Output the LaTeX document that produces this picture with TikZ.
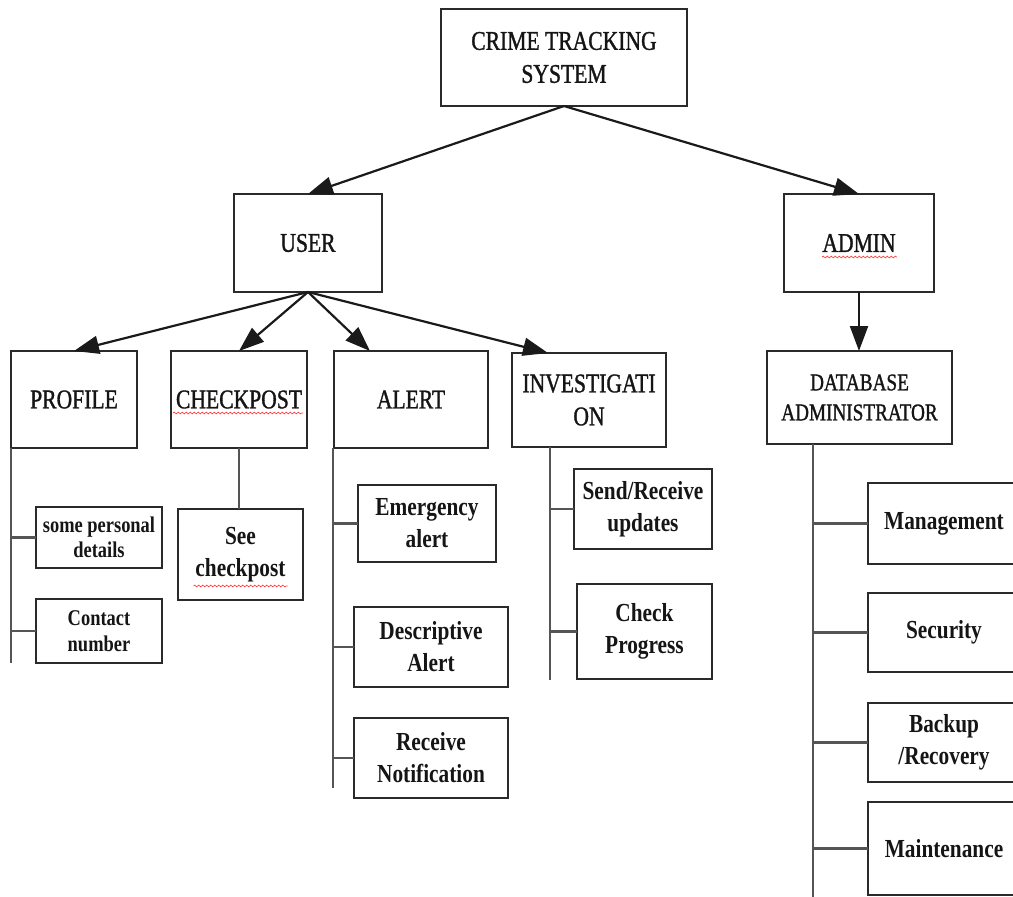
\documentclass[tikz,border=0pt]{standalone}
\usepackage{fontspec}
\setmainfont{Liberation Serif}[FakeStretch=0.82]
\newfontfamily\heavyfont{Liberation Serif}[FakeStretch=0.80, FakeBold=1.2]
\usetikzlibrary{arrows.meta,calc,decorations.pathmorphing}
\definecolor{boxc}{HTML}{2A2A2A}
\definecolor{linec}{HTML}{555555}
\definecolor{arrc}{HTML}{1A1A1A}
\definecolor{txtc}{HTML}{151515}
\begin{document}
\begin{tikzpicture}[x=1pt,y=-1pt,
  box/.style={draw=boxc, line width=2.2pt, rectangle, inner sep=0pt, outer sep=0pt, align=center, text=txtc},
  big/.style={box, font=\heavyfont\fontsize{27}{33}\selectfont},
  dbfont/.style={box, font=\heavyfont\fontsize{24}{30}\selectfont},
  sub/.style={box, font=\bfseries\fontsize{26}{32}\selectfont},
  small/.style={box, font=\bfseries\fontsize{22.5}{25.5}\selectfont},
  arr/.style={line width=2.2pt, draw=arrc, -{Triangle[length=25pt,width=18pt]}},
  vline/.style={line width=2.2pt, draw=linec},
  spell/.style={draw=red!75, line width=0.7pt, decorate, decoration={snake, segment length=4pt, amplitude=0.9pt}}
]
\useasboundingbox (0,0) rectangle (1013,897);
\clip (0,0) rectangle (1013,897);

% top levels
\node[big, minimum width=246pt, minimum height=97pt] (cts) at (564,57.5) {CRIME TRACKING\\SYSTEM};
\node[big, minimum width=148pt, minimum height=98pt] (user) at (308,243) {USER};
\node[big, minimum width=150pt, minimum height=98pt] (admin) at (859,243) {ADMIN};

% second level
\node[big, minimum width=126pt, minimum height=97pt] (profile) at (74,399.5) {PROFILE};
\node[big, minimum width=136pt, minimum height=97pt] (checkpost) at (239,399.5) {CHECKPOST};
\node[big, minimum width=154pt, minimum height=97pt] (alert) at (411,399.5) {ALERT};
\node[big, minimum width=154pt, minimum height=94pt] (inv) at (589,400) {INVESTIGATI\\ON};
\node[dbfont, minimum width=185pt, minimum height=93pt] (dba) at (859.5,397.5) {DATABASE\\ADMINISTRATOR};

% leaves
\node[small, minimum width=126pt, minimum height=61pt] (spd) at (99,537.5) {some personal\\details};
\node[small, minimum width=126pt, minimum height=64pt] (cn) at (99,631) {Contact\\number};
\node[sub, minimum width=125pt, minimum height=91pt] (seecp) at (240.5,554.5) {See\\checkpost};
\node[sub, minimum width=138pt, minimum height=77pt] (emerg) at (427,523.5) {Emergency\\alert};
\node[sub, minimum width=154pt, minimum height=80pt] (desc) at (431,647) {Descriptive\\Alert};
\node[sub, minimum width=154pt, minimum height=80pt] (recv) at (431,758) {Receive\\Notification};
\node[sub, minimum width=138pt, minimum height=80pt] (sr) at (643,509) {Send/Receive\\updates};
\node[sub, minimum width=135pt, minimum height=95pt] (chk) at (644.5,631.5) {Check\\Progress};
\node[sub, minimum width=152pt, minimum height=81pt] (mgmt) at (944,523.5) {Management};
\node[sub, minimum width=152pt, minimum height=79pt] (sec) at (944,632.5) {Security};
\node[sub, minimum width=152pt, minimum height=79pt] (bkp) at (944,742.5) {Backup\\/Recovery};
\node[sub, minimum width=152pt, minimum height=93pt] (maint) at (944,848.5) {Maintenance};

% arrows
\draw[arr] (cts.south) -- (user.north);
\draw[arr] (cts.south) -- (admin.north);
\draw[arr] (user.south) -- (profile.north);
\draw[arr] (user.south) -- (checkpost.north);
\coordinate (alertin) at ($(alert.north west)+(36,0)$);
\coordinate (invin) at ($(inv.north west)+(36,0)$);
\draw[arr] (user.south) -- (alertin);
\draw[arr] (user.south) -- (invin);
\draw[arr] (admin.south) -- (dba.north -| admin.south);

% profile tree
\coordinate (pend) at (11,663);
\draw[vline] (profile.south west) -- (pend);
\draw[vline] (spd.west) -- (spd.west -| pend);
\draw[vline] (cn.west) -- (cn.west -| pend);

% checkpost
\draw[vline] (checkpost.south) -- (seecp.north -| checkpost.south);

% alert tree
\coordinate (atop) at ($(alert.south west)+(-1,0)$);
\coordinate (aend) at (333,788);
\draw[vline] (atop) -- (aend);
\draw[vline] (emerg.west) -- (emerg.west -| aend);
\draw[vline] (desc.west) -- (desc.west -| aend);
\draw[vline] (recv.west) -- (recv.west -| aend);

% investigation tree
\coordinate (itop) at ($(inv.south west)+(38,0)$);
\coordinate (iend) at (550,680);
\draw[vline] (itop) -- (iend);
\draw[vline] (sr.west) -- (sr.west -| iend);
\draw[vline] (chk.west) -- (chk.west -| iend);

% dba tree
\coordinate (dtop) at ($(dba.south west)+(46,0)$);
\coordinate (dend) at (813,900);
\draw[vline] (dtop) -- (dend);
\draw[vline] (mgmt.west) -- (mgmt.west -| dend);
\draw[vline] (sec.west) -- (sec.west -| dend);
\draw[vline] (bkp.west) -- (bkp.west -| dend);
\draw[vline] (maint.west) -- (maint.west -| dend);

% spell-check underlines
\draw[spell] ($(checkpost.center)+(-66,13.5)$) -- ($(checkpost.center)+(64,13.5)$);
\draw[spell] ($(admin.center)+(-37,14)$) -- ($(admin.center)+(38,14)$);
\draw[spell] ($(seecp.center)+(-47,31.5)$) -- ($(seecp.center)+(47,31.5)$);
\end{tikzpicture}
\end{document}
